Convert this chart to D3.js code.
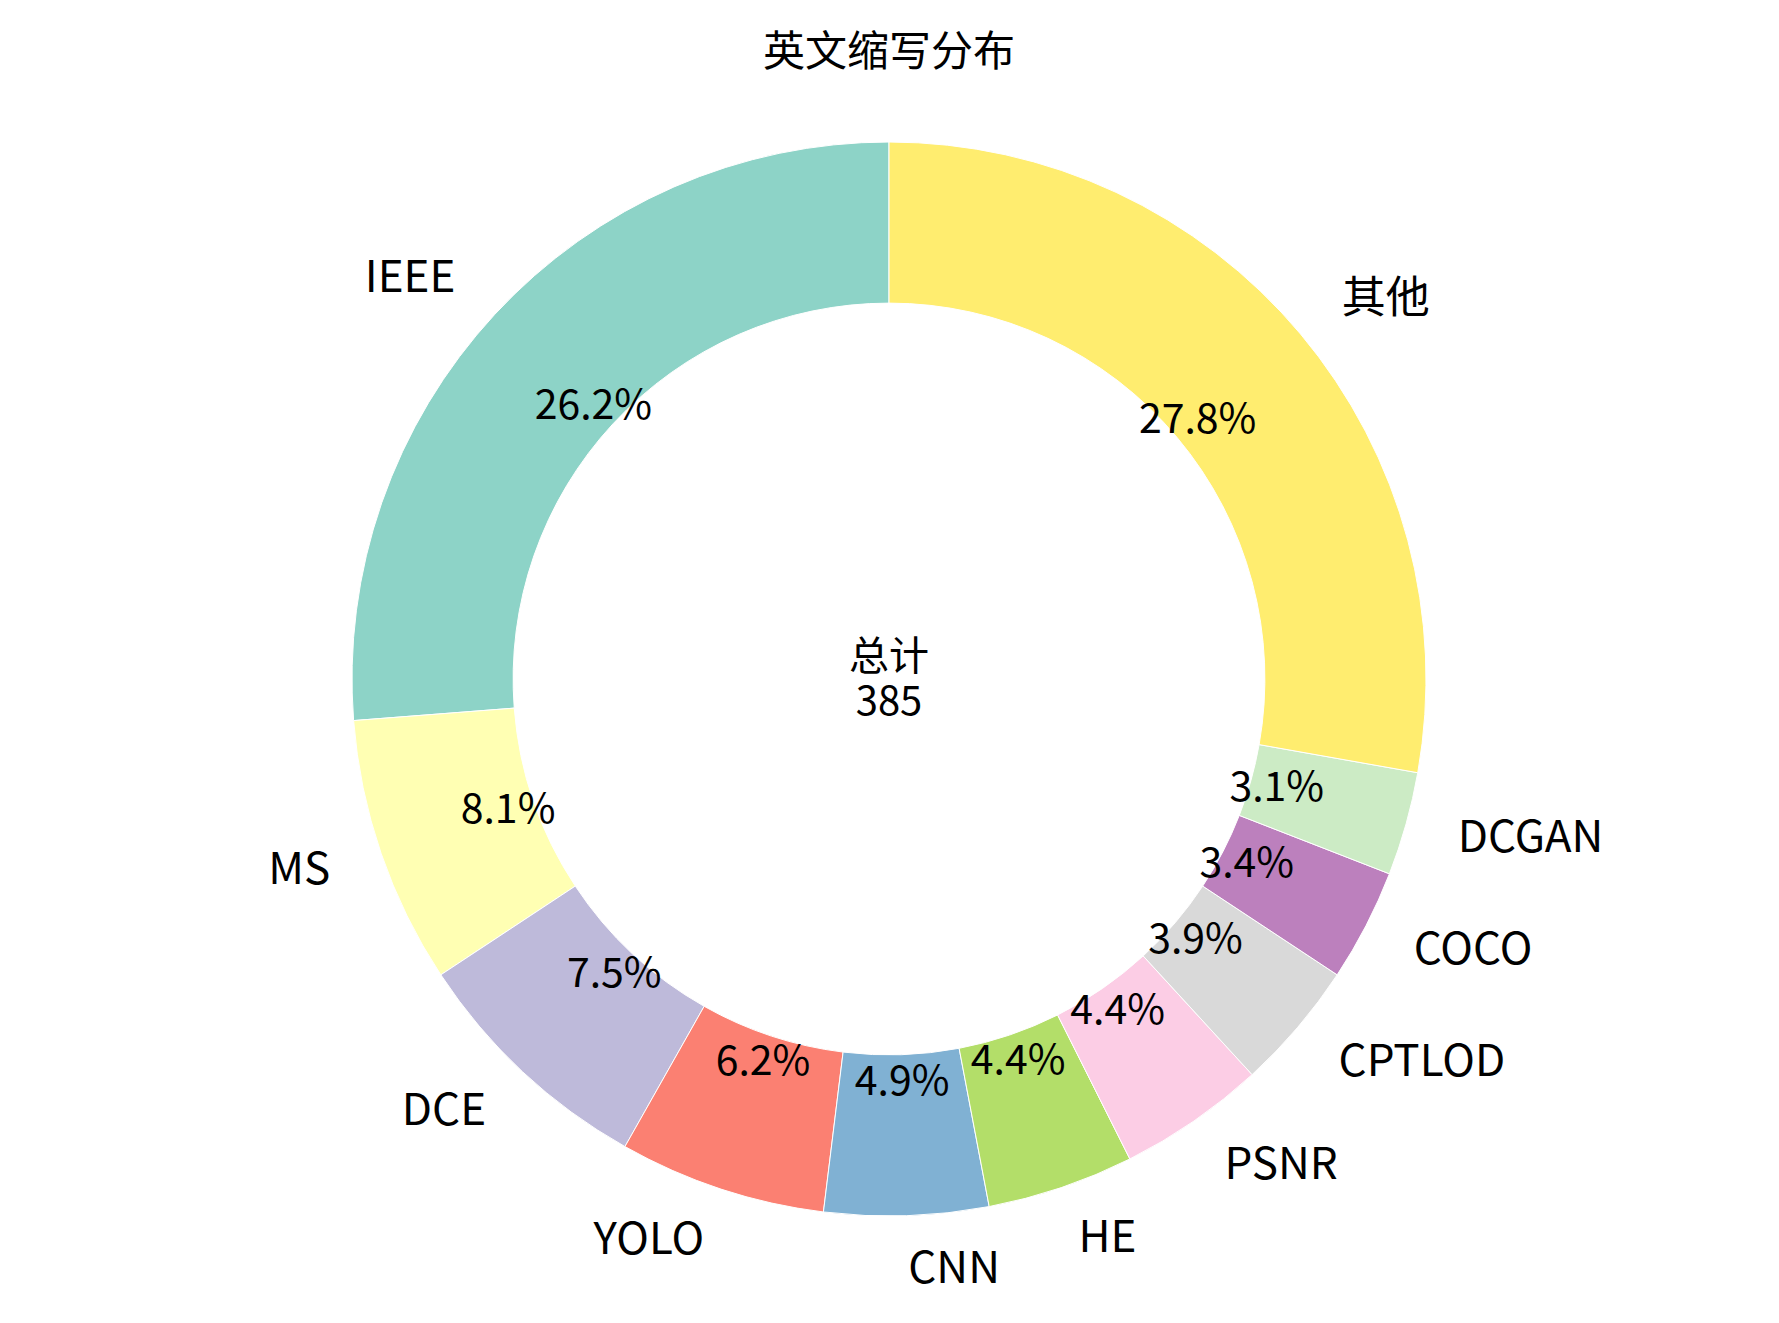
<!DOCTYPE html>
<html>
<head>
<meta charset="utf-8">
<script src="https://cdn.jsdelivr.net/npm/d3@7"></script>
<style>
  html, body { margin: 0; padding: 0; background: #fff; }
  svg text { font-family: "Noto Sans CJK SC", "Noto Sans", sans-serif; fill: #000; }
</style>
</head>
<body>
<svg id="chart" width="1779" height="1323"></svg>
<script>
// ===== English abbreviation donut =====

const labels = ['IEEE', 'MS', 'DCE', 'YOLO', 'CNN', 'HE', 'PSNR', 'CPTLOD', 'COCO', 'DCGAN', '其他'];
const counts = [101, 31, 29, 24, 19, 17, 17, 15, 13, 12, 107];
const colors = ['#8dd3c7', '#ffffb3', '#bebada', '#fb8072', '#80b1d3', '#b3de69',
                '#fccde5', '#d9d9d9', '#bc80bd', '#ccebc5', '#ffed6f'];
const title = '英文缩写分布';
const centerLabel = '总计';

const width = 1779, height = 1323;
const cx = 889, cy = 679;
const R = 537;

const svg = d3.select('#chart');
const total = d3.sum(counts);

const data = labels.map((name, i) => ({ name, value: counts[i], color: colors[i] }));

// counter-clockwise from 12 o'clock, like startangle=90
const pie = d3.pie()
    .value(d => d.value)
    .sort(null)
    .startAngle(0)
    .endAngle(-2 * Math.PI);

const arcs = pie(data);

const ring = d3.arc().innerRadius(R * 0.7).outerRadius(R);
const labelArc = d3.arc().innerRadius(R * 1.1).outerRadius(R * 1.1);
const pctArc = d3.arc().innerRadius(R * 0.75).outerRadius(R * 0.75);

const g = svg.append('g').attr('transform', `translate(${cx},${cy})`);

g.selectAll('path.slice')
    .data(arcs)
    .join('path')
    .attr('class', 'slice')
    .attr('d', ring)
    .attr('fill', d => d.data.color)
    .attr('stroke', '#fff')
    .attr('stroke-width', 1);

// outer labels
g.selectAll('text.name')
    .data(arcs)
    .join('text')
    .attr('class', 'name')
    .attr('x', d => labelArc.centroid(d)[0])
    .attr('y', d => labelArc.centroid(d)[1])
    .attr('dy', '-0.12em')
    .attr('text-anchor', d => labelArc.centroid(d)[0] < 0 ? 'end' : 'start')
    .attr('dominant-baseline', 'central')
    .style('font-size', '44px')
    .text(d => d.data.name);

// percentages
g.selectAll('text.pct')
    .data(arcs)
    .join('text')
    .attr('class', 'pct')
    .attr('x', d => pctArc.centroid(d)[0])
    .attr('y', d => pctArc.centroid(d)[1])
    .attr('dy', '-0.12em')
    .attr('text-anchor', 'middle')
    .attr('dominant-baseline', 'central')
    .style('font-size', '41px')
    .text(d => (d.value / total * 100).toFixed(1) + '%');

// centre total
const mid = g.append('text')
    .attr('text-anchor', 'middle')
    .style('font-size', '40px');
mid.append('tspan').attr('x', 0).attr('y', -9).text(centerLabel);
mid.append('tspan').attr('x', 0).attr('y', 36).text(total);

svg.append('text')
    .attr('x', cx)
    .attr('y', 66)
    .attr('text-anchor', 'middle')
    .style('font-size', '42px')
    .text(title);
</script>
</body>
</html>
